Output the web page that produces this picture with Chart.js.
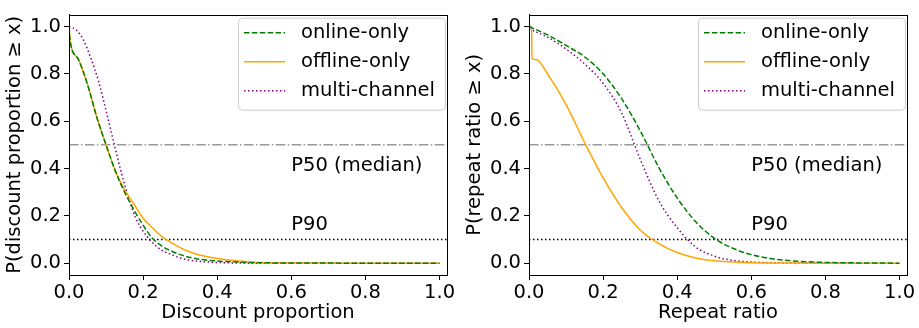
<!DOCTYPE html>
<html>
<head>
<meta charset="utf-8">
<script src="https://cdn.jsdelivr.net/npm/chart.js@4.4.0/dist/chart.umd.min.js"></script>
<style>
  html, body { margin: 0; padding: 0; background: #fff; }
  #wrap { position: relative; width: 919px; height: 328px; }
  .panel { position: absolute; top: 0; height: 328px; }
</style>
</head>
<body>
<div id="wrap">
  <div class="panel" style="left:0;width:460px"><canvas id="discChart" width="460" height="328"></canvas></div>
  <div class="panel" style="left:460px;width:459px"><canvas id="repeatChart" width="459" height="328"></canvas></div>
</div>
<script>
// CCDF of discount proportion and repeat ratio per customer group

const seriesNames = ["online-only", "offline-only", "multi-channel"];
const tickVals = [0, 0.2, 0.4, 0.6, 0.8, 1.0];
const refLevels = [0.5, 0.1];
const refLabels = ["P50 (median)", "P90"];

// discount proportion
const discOnlineX = [0, 0.003, 0.025, 0.05, 0.075, 0.1, 0.125, 0.15, 0.175, 0.2, 0.225, 0.25, 0.275, 0.3, 0.325, 0.35, 0.4, 0.45, 0.5, 0.6, 0.8, 1.0];
const discOnlineY = [1.0, 0.94, 0.862, 0.755, 0.617, 0.5, 0.39, 0.30, 0.226, 0.16, 0.105, 0.073, 0.052, 0.036, 0.025, 0.017, 0.009, 0.005, 0.002, 0.001, 0, 0];
const discOfflineX = [0, 0.003, 0.025, 0.05, 0.075, 0.1, 0.125, 0.15, 0.175, 0.2, 0.225, 0.25, 0.275, 0.3, 0.325, 0.35, 0.4, 0.45, 0.5, 0.6, 0.8, 1.0];
const discOfflineY = [1.0, 0.94, 0.862, 0.755, 0.617, 0.5, 0.39, 0.31, 0.25, 0.19, 0.15, 0.113, 0.088, 0.066, 0.048, 0.036, 0.02, 0.01, 0.004, 0.001, 0, 0];
const discMultiX = [0, 0.02, 0.04, 0.06, 0.08, 0.1, 0.12, 0.14, 0.16, 0.18, 0.2, 0.22, 0.25, 0.275, 0.3, 0.325, 0.35, 0.4, 0.5, 1.0];
const discMultiY = [1.0, 0.985, 0.94, 0.862, 0.767, 0.645, 0.515, 0.39, 0.28, 0.19, 0.135, 0.095, 0.055, 0.037, 0.022, 0.013, 0.008, 0.003, 0, 0];

// repeat ratio
const repOnlineX = [0, 0.05, 0.1, 0.15, 0.2, 0.25, 0.3, 0.35, 0.4, 0.45, 0.5, 0.55, 0.6, 0.65, 0.7, 0.75, 0.8, 0.9, 1.0];
const repOnlineY = [1.0, 0.965, 0.92, 0.872, 0.80, 0.695, 0.56, 0.405, 0.275, 0.175, 0.105, 0.063, 0.036, 0.02, 0.011, 0.006, 0.003, 0.001, 0];
const repOfflineX = [0, 0.007, 0.008, 0.02, 0.05, 0.1, 0.15, 0.2, 0.25, 0.3, 0.35, 0.4, 0.45, 0.5, 0.55, 0.6, 0.7, 0.8, 1.0];
const repOfflineY = [1.0, 1.0, 0.865, 0.86, 0.80, 0.67, 0.51, 0.36, 0.235, 0.14, 0.083, 0.045, 0.022, 0.01, 0.005, 0.002, 0.001, 0, 0];
const repMultiX = [0, 0.05, 0.1, 0.15, 0.2, 0.25, 0.3, 0.35, 0.4, 0.45, 0.5, 0.55, 0.6, 0.65, 0.7, 0.8, 0.86];
const repMultiY = [0.99, 0.955, 0.905, 0.842, 0.76, 0.635, 0.44, 0.265, 0.15, 0.068, 0.03, 0.012, 0.005, 0.002, 0.001, 0, 0];

const FONT = { family: "'DejaVu Sans', sans-serif", size: 19.5 };
const FONT_CSS = "19.5px 'DejaVu Sans', sans-serif";

const STYLES = [
  { color: "#008000", dash: [5.5, 2.4] },
  { color: "#ffa500", dash: [] },
  { color: "#800080", dash: [1.5, 2.5] }
];

function pts(xs, ys) { return xs.map((x, i) => ({ x, y: ys[i] })); }

// frame, P50/P90 notes and the legend box inside the plot area
const decorPlugin = {
  id: "decor",
  afterDatasetsDraw(chart) {
    const ctx = chart.ctx;
    const a = chart.chartArea;
    const xs = chart.scales.x, ys = chart.scales.y;
    ctx.save();

    // notes above the reference lines
    ctx.fillStyle = "#000";
    ctx.font = FONT_CSS;
    ctx.textBaseline = "alphabetic";
    ctx.textAlign = "left";
    ctx.fillText(refLabels[0], xs.getPixelForValue(0.6), ys.getPixelForValue(0.39));
    ctx.fillText(refLabels[1], xs.getPixelForValue(0.6), ys.getPixelForValue(0.14));

    // legend
    const bx = a.left + 169, by = a.top + 3, bw = 207, bh = 92;
    ctx.beginPath();
    ctx.roundRect(bx + 0.5, by + 0.5, bw, bh, 4);
    ctx.fillStyle = "rgba(255,255,255,0.8)";
    ctx.fill();
    ctx.strokeStyle = "#cccccc";
    ctx.lineWidth = 1;
    ctx.stroke();
    ctx.textBaseline = "middle";
    seriesNames.forEach((name, i) => {
      const ds = chart.data.datasets[i];
      const y = by + 15 + i * 29;
      ctx.beginPath();
      ctx.setLineDash(ds.borderDash || []);
      ctx.strokeStyle = ds.borderColor;
      ctx.lineWidth = ds.borderWidth;
      ctx.moveTo(bx + 6, y);
      ctx.lineTo(bx + 47, y);
      ctx.stroke();
      ctx.setLineDash([]);
      ctx.fillStyle = "#000";
      ctx.fillText(name, bx + 63, y);
    });

    // axes frame
    ctx.strokeStyle = "#000";
    ctx.lineWidth = 1;
    ctx.strokeRect(Math.round(a.left) + 0.5, Math.round(a.top) + 0.5,
      Math.round(a.right - a.left), Math.round(a.bottom - a.top));
    ctx.restore();
  }
};

function makePanel(canvasId, rightPad, series, xTitle, yTitle) {
  const datasets = series.map((s, i) => ({
    label: seriesNames[i],
    data: pts(s[0], s[1]),
    borderColor: STYLES[i].color,
    borderDash: STYLES[i].dash,
    borderWidth: 1.5,
    borderCapStyle: "butt",
    pointRadius: 0,
    cubicInterpolationMode: "monotone",
    fill: false,
    order: 1
  }));
  // P50 and P90 reference lines across the full axis width
  datasets.push({
    label: refLabels[0],
    data: [{ x: 0, y: refLevels[0] }, { x: 1.02, y: refLevels[0] }],
    borderColor: "#999999", borderDash: [9.6, 2.4, 1.5, 2.4], borderWidth: 1.5,
    pointRadius: 0, fill: false, order: 2
  });
  datasets.push({
    label: refLabels[1],
    data: [{ x: 0, y: refLevels[1] }, { x: 1.02, y: refLevels[1] }],
    borderColor: "#000000", borderDash: [1.5, 2.5], borderWidth: 1.5,
    pointRadius: 0, fill: false, order: 2
  });

  return new Chart(document.getElementById(canvasId), {
    type: "line",
    data: { datasets },
    options: {
      responsive: false,
      animation: false,
      layout: { padding: { top: 5, right: rightPad, left: 0, bottom: 0 } },
      plugins: { legend: { display: false }, tooltip: { enabled: false } },
      scales: {
        x: {
          type: "linear", min: 0, max: 1.02,
          afterBuildTicks: s => { s.ticks = tickVals.map(v => ({ value: v })); },
          afterFit: s => { s.height = 53; },
          ticks: { callback: v => v.toFixed(1), font: FONT, color: "#000", padding: 1, maxRotation: 0, autoSkip: false },
          grid: { drawOnChartArea: false, tickLength: 5, color: "#000" },
          border: { color: "#000" },
          title: { display: true, text: xTitle, font: FONT, color: "#000", padding: { top: 0, bottom: 3 } }
        },
        y: {
          type: "linear", min: -0.05, max: 1.05,
          afterBuildTicks: s => { s.ticks = tickVals.map(v => ({ value: v })); },
          afterFit: s => { s.width = 69; },
          ticks: { callback: v => v.toFixed(1), font: FONT, color: "#000", padding: 3, autoSkip: false },
          grid: { drawOnChartArea: false, tickLength: 5, color: "#000" },
          border: { color: "#000" },
          title: { display: true, text: yTitle, font: FONT, color: "#000", padding: { top: 3, bottom: 0 } }
        }
      }
    },
    plugins: [decorPlugin]
  });
}

makePanel("discChart", 13,
  [[discOnlineX, discOnlineY], [discOfflineX, discOfflineY], [discMultiX, discMultiY]],
  "Discount proportion", "P(discount proportion \u2265 x)");

makePanel("repeatChart", 12,
  [[repOnlineX, repOnlineY], [repOfflineX, repOfflineY], [repMultiX, repMultiY]],
  "Repeat ratio", "P(repeat ratio \u2265 x)");
</script>
</body>
</html>
